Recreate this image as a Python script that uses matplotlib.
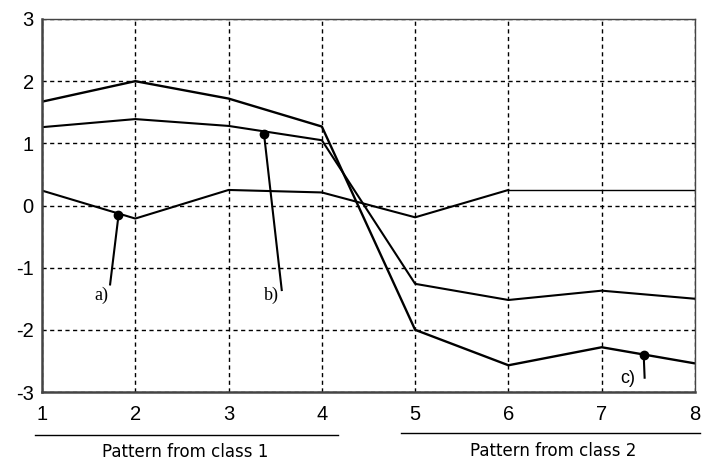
import numpy as np
import matplotlib.pyplot as plt
from matplotlib.lines import Line2D

plt.rcParams["axes.unicode_minus"] = False
plt.rcParams["font.family"] = ["Liberation Sans", "DejaVu Sans"]

# ----------------------------------------------------------
# Data
# ----------------------------------------------------------

x = [1, 2, 3, 4, 5, 6, 7, 8]
series_a = [1.67, 2.00, 1.72, 1.27, -2.00, -2.57, -2.28, -2.54]
series_b = [1.26, 1.39, 1.28, 1.05, -1.26, -1.52, -1.37, -1.50]
series_c = [0.24, -0.21, 0.25, 0.21, -0.19, 0.25, 0.25, 0.25]

# marked points and the ends of their leader lines
mark_labels = ["a)", "b)", "c)"]
mark_x = [1.82, 3.38, 7.45]
mark_y = [-0.16, 1.15, -2.40]
leader_x = [1.73, 3.57, 7.46]
leader_y = [-1.27, -1.36, -2.77]
label_x = [1.64, 3.46, 7.28]
label_y = [-1.45, -1.45, -2.78]

class_labels = ["Pattern from class 1", "Pattern from class 2"]

# ----------------------------------------------------------
# Plotting
# ----------------------------------------------------------

W, H = 702, 463
fig = plt.figure(figsize=(W / 100, H / 100), dpi=100)
ax = fig.add_axes([42 / W, 1 - 392 / H, (695 - 42) / W, (392 - 19) / H])

ax.plot(x[:6], series_c[:6], color="black", lw=1.5)
ax.plot(x[5:], series_c[5:], color="black", lw=1.0)
ax.plot(x, series_b, color="black", lw=1.5)
ax.plot(x, series_a, color="black", lw=1.7)

for lab, mx, my, lx, ly, tx, ty in zip(mark_labels, mark_x, mark_y,
                                       leader_x, leader_y, label_x, label_y):
    ax.plot([mx, lx], [my, ly], color="black", lw=1.5)
    ax.plot(mx, my, "o", color="black", ms=6)
    fam = "Liberation Sans" if lab == "c)" else "Liberation Serif"
    ax.text(tx, ty, lab, fontsize=13, family=fam, ha="center", va="center")

ax.set_xlim(1, 8)
ax.set_ylim(-3, 3)
ax.set_xticks(x)
ax.set_yticks([-3, -2, -1, 0, 1, 2, 3])
ax.tick_params(length=0, labelsize=14.5)
ax.tick_params(axis="x", pad=9)
ax.tick_params(axis="y", pad=6)
ax.grid(True, color="black", ls=(0, (3, 2.5)), lw=1.0)

for side in ["left", "bottom"]:
    ax.spines[side].set_linewidth(1.8)
    ax.spines[side].set_color("#444444")
for side in ["top", "right"]:
    ax.spines[side].set_linewidth(1.0)
    ax.spines[side].set_color("#444444")

# class brackets under the axis
fig.add_artist(Line2D([35 / W, 338 / W], [1 - 435 / H] * 2,
                      transform=fig.transFigure, color="black", lw=1.0))
fig.add_artist(Line2D([401 / W, 700 / W], [1 - 433 / H] * 2,
                      transform=fig.transFigure, color="black", lw=1.0))
fig.text(185 / W, 1 - 452 / H, class_labels[0], ha="center", va="center",
         fontsize=12, family="DejaVu Sans")
fig.text(553 / W, 1 - 451 / H, class_labels[1], ha="center", va="center",
         fontsize=12, family="DejaVu Sans")

plt.savefig("out.png", dpi=100)
